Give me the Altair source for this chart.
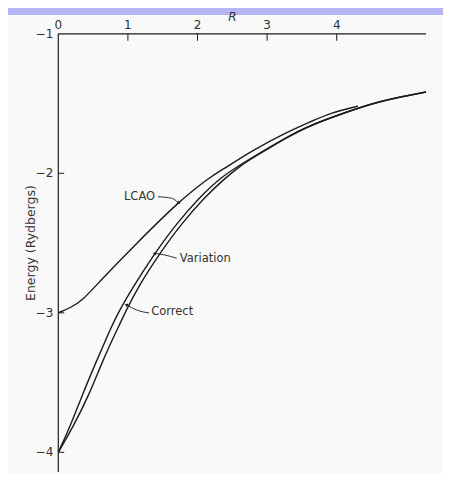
import altair as alt
import pandas as pd

# ---- data (R in bohr radii, E in Rydbergs) ----
lcao_R = [0, 0.168, 0.355, 0.599, 1.073, 1.720, 2.180, 2.352, 2.797, 3.286, 3.617, 3.904, 4.306]
lcao_E = [-3.000, -2.966, -2.908, -2.772, -2.528, -2.206, -2.027, -1.976, -1.833, -1.704, -1.632, -1.568, -1.518]

var_R = [0, 0.168, 0.355, 0.556, 0.743, 0.858, 1.073, 1.389, 1.705, 2.036, 2.352, 2.797, 3.286, 3.617, 4.306, 4.622, 5.283]
var_E = [-4.000, -3.819, -3.575, -3.337, -3.123, -3.000, -2.815, -2.571, -2.356, -2.170, -2.019, -1.882, -1.741, -1.654, -1.533, -1.482, -1.417]

cor_R = [0, 0.211, 0.455, 0.642, 0.843, 0.958, 1.145, 1.461, 1.777, 2.108, 2.381, 2.611, 2.797, 3.286, 3.617, 4.306, 4.622, 5.283]
cor_E = [-4.000, -3.819, -3.575, -3.337, -3.123, -3.000, -2.815, -2.571, -2.356, -2.170, -2.041, -1.948, -1.889, -1.741, -1.654, -1.533, -1.482, -1.417]

# axis ticks / labels
x_label_vals = [0, 1, 2, 3, 4]
x_label_text = ["0", "1", "2", "3", "4"]
x_tick_vals = [1, 2, 3, 4]
y_label_vals = [-1, -2, -3, -4]
y_label_text = ["\u22121", "\u22122", "\u22123", "\u22124"]
y_tick_vals = [-2, -3, -4]
x_axis_end = 5.283
y_axis_end = -4.141

# curve labels and their arrows
ann_names = ["LCAO", "Variation", "Correct"]
ann_R = [1.167, 1.745, 1.335]
ann_E = [-2.168, -2.612, -2.997]
ann_align = ["center", "left", "left"]
arrow_R = [[1.432, 1.629, 1.724], [1.701, 1.533, 1.389], [1.303, 1.126, 0.983]]
arrow_E = [[-2.168, -2.179, -2.211], [-2.609, -2.586, -2.574], [-3.001, -2.980, -2.944]]
arrow_angle = [124, 280, 297]

# ---- scales ----
xs = alt.Scale(domain=[-0.7227, 5.527], nice=False, zero=False)
ys = alt.Scale(domain=[-4.1556, -0.8652], nice=False, zero=False)
X = lambda f: alt.X(f, type="quantitative", scale=xs, axis=None)
Y = lambda f: alt.Y(f, type="quantitative", scale=ys, axis=None)

curves = pd.concat([
    pd.DataFrame({"R": lcao_R, "E": lcao_E, "s": "LCAO"}),
    pd.DataFrame({"R": var_R, "E": var_E, "s": "Variation"}),
    pd.DataFrame({"R": cor_R, "E": cor_E, "s": "Correct"}),
])

ink = "#1c1c1c"
txt = "#333333"
font = "DejaVu Sans"

lines = alt.Chart(curves).mark_line(interpolate="basis", color=ink, strokeWidth=1.4).encode(
    x=X("R"), y=Y("E"), detail="s:N"
)

xaxis = alt.Chart(pd.DataFrame({"R": [0], "R2": [x_axis_end], "E": [-1]})).mark_rule(
    color=ink, strokeWidth=1.2).encode(x=X("R"), x2="R2", y=Y("E"))
yaxis = alt.Chart(pd.DataFrame({"R": [0], "E": [-1], "E2": [y_axis_end]})).mark_rule(
    color=ink, strokeWidth=1.2).encode(x=X("R"), y=Y("E"), y2="E2")

xt = pd.DataFrame({"R": x_tick_vals})
xt["E"] = -1.0
xt["E2"] = -1.05
xticks = alt.Chart(xt).mark_rule(color=ink, strokeWidth=1).encode(x=X("R"), y=Y("E"), y2="E2")

yt = pd.DataFrame({"E": y_tick_vals})
yt["R"] = 0.0
yt["R2"] = 0.085
yticks = alt.Chart(yt).mark_rule(color=ink, strokeWidth=1).encode(x=X("R"), x2="R2", y=Y("E"))

xl = pd.DataFrame({"R": x_label_vals, "t": x_label_text})
xl["E"] = -1.0
xlabels = alt.Chart(xl).mark_text(font=font, fontSize=12, color=txt, baseline="bottom", dy=-2).encode(
    x=X("R"), y=Y("E"), text="t:N")

yl = pd.DataFrame({"E": y_label_vals, "t": y_label_text})
yl["R"] = 0.0
ylabels = alt.Chart(yl).mark_text(font=font, fontSize=12, color=txt, align="right", baseline="middle", dx=-5).encode(
    x=X("R"), y=Y("E"), text="t:N")

rtitle = alt.Chart(pd.DataFrame({"R": [2.503], "E": [-0.8796], "t": ["R"]})).mark_text(
    font=font, fontSize=12, fontStyle="italic", color=txt).encode(x=X("R"), y=Y("E"), text="t:N")
ytitle = alt.Chart(pd.DataFrame({"R": [-0.392], "E": [-2.50], "t": ["Energy (Rydbergs)"]})).mark_text(
    font=font, fontSize=12.5, color=txt, angle=270).encode(x=X("R"), y=Y("E"), text="t:N")

ann_layers = []
for i, name in enumerate(ann_names):
    ann_layers.append(
        alt.Chart(pd.DataFrame({"R": [ann_R[i]], "E": [ann_E[i]], "t": [name]})).mark_text(
            font=font, fontSize=11.5, color=txt, align=ann_align[i], baseline="middle"
        ).encode(x=X("R"), y=Y("E"), text="t:N")
    )
    adf = pd.DataFrame({"R": arrow_R[i], "E": arrow_E[i], "o": [0, 1, 2]})
    ann_layers.append(
        alt.Chart(adf).mark_line(interpolate="monotone", color=ink, strokeWidth=0.9).encode(
            x=X("R"), y=Y("E"), order="o:Q")
    )
    ann_layers.append(
        alt.Chart(adf.iloc[[2]]).mark_point(shape="triangle", filled=True, size=14, color=ink,
                                           angle=arrow_angle[i], opacity=1).encode(x=X("R"), y=Y("E"))
    )

chart = alt.layer(
    xaxis, yaxis, xticks, yticks, xlabels, ylabels, rtitle, ytitle, lines, *ann_layers
).properties(
    width=435, height=459,
    background="#b6b6f6",
    padding={"top": 7, "left": 0, "right": 0, "bottom": 0},
    autosize=alt.AutoSizeParams(type="none"),
).configure_view(fill="#f9f9f9", strokeWidth=0)

chart.save("out.html", embed_options={"renderer": "svg", "actions": False})
